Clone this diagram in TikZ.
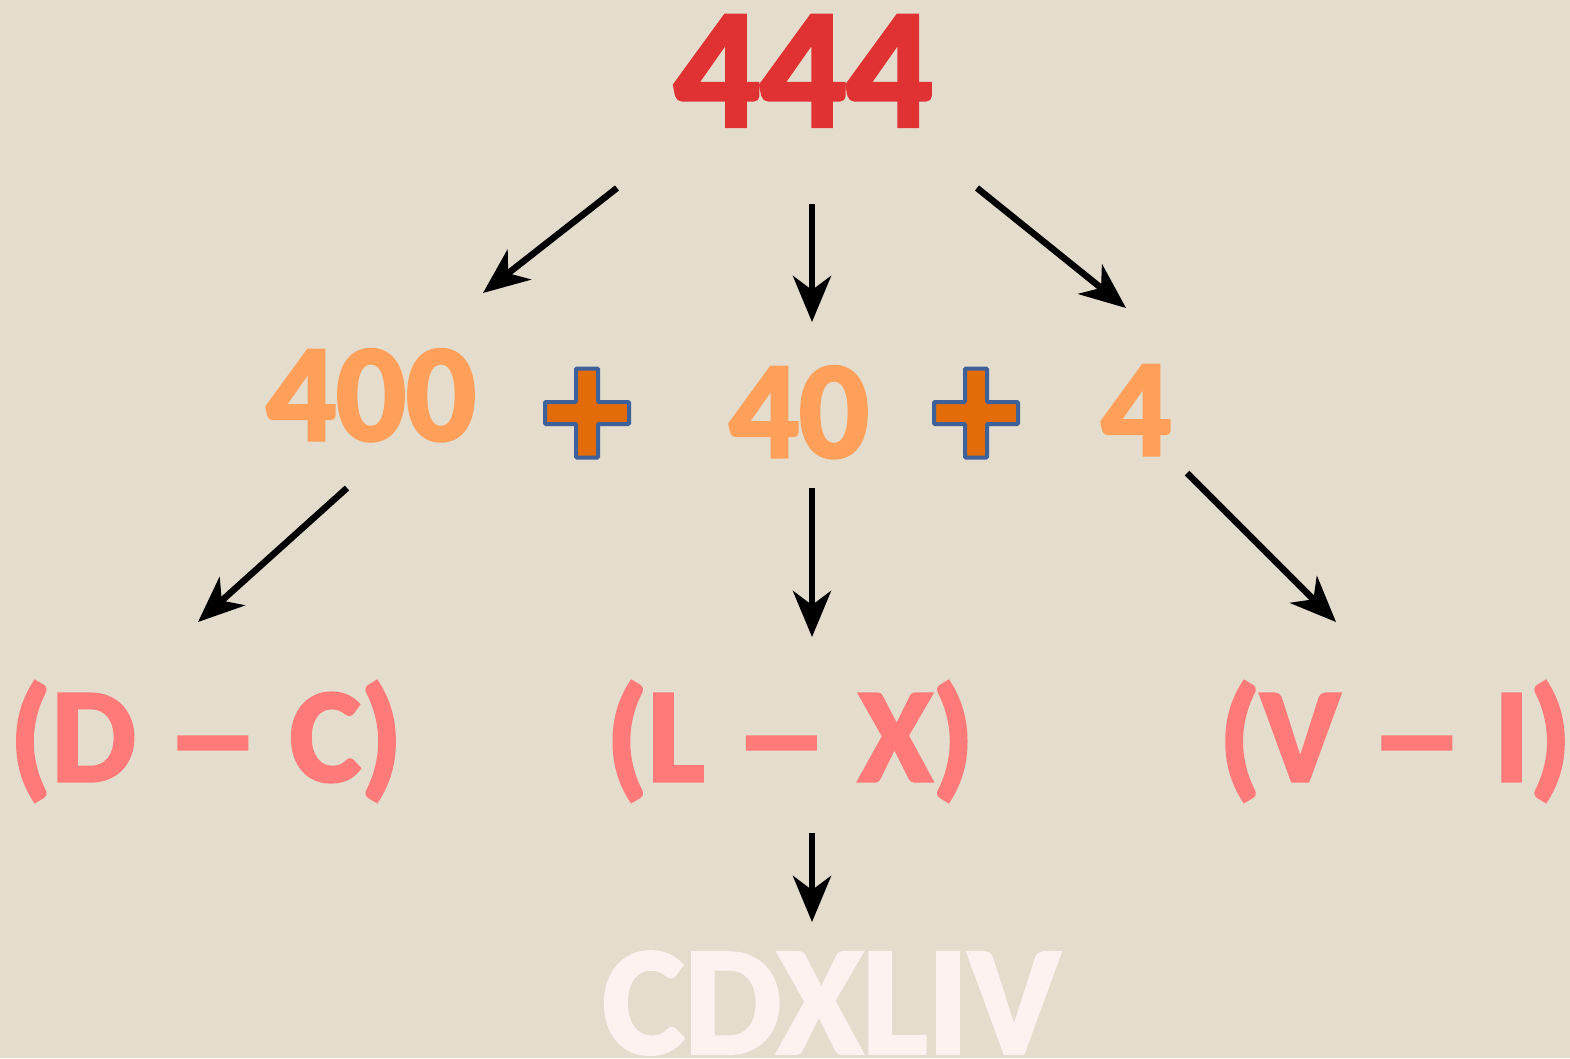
\documentclass[tikz,border=0pt]{standalone}
\usepackage{fontspec}
\setmainfont{Carlito}
\newfontfamily\boldcal{Carlito Bold}[FakeBold=2.5]
\usetikzlibrary{arrows.meta}
\definecolor{bgc}{HTML}{E4DCCD}
\definecolor{redc}{HTML}{E03232}
\definecolor{orangec}{HTML}{FFA05A}
\definecolor{pinkc}{HTML}{FF7A78}
\definecolor{whitec}{HTML}{FCF2F0}
\definecolor{plusfill}{HTML}{E36C09}
\definecolor{plusedge}{HTML}{3F6199}
\newcommand{\wdash}{\scalebox{1.4}[1]{–}}
\tikzset{
  txt/.style={inner sep=0pt, outer sep=0pt, anchor=base},
  arr/.style={line width=6.5pt, -{Stealth[length=46pt, width=38pt, inset=14pt]}},
  plussign/.style={fill=plusfill, draw=plusedge, line width=4pt, rounded corners=1pt}
}
\newcommand{\plusat}[2]{%
  \path[plussign] (#1-11,#2-44.5) -- (#1+11,#2-44.5) -- (#1+11,#2-11) -- (#1+42,#2-11)
    -- (#1+42,#2+11) -- (#1+11,#2+11) -- (#1+11,#2+44.5) -- (#1-11,#2+44.5)
    -- (#1-11,#2+11) -- (#1-42,#2+11) -- (#1-42,#2-11) -- (#1-11,#2-11) -- cycle;}
\begin{document}
\begin{tikzpicture}[x=1pt,y=-1pt]
\fill[bgc] (0,0) rectangle (1570,1058);
\useasboundingbox (0,0) rectangle (1570,1058);

% texts
\node[txt, text=redc, font=\boldcal\fontsize{170}{170}\selectfont] (n444) at (803,126) {444};
\node[txt, text=orangec, font=\boldcal\fontsize{138}{138}\selectfont] (n400) at (371,440) {400};
\node[txt, text=orangec, font=\boldcal\fontsize{138}{138}\selectfont] (n40) at (799,457) {40};
\node[txt, text=orangec, font=\boldcal\fontsize{138}{138}\selectfont] (n4) at (1136,455) {4};
\node[txt, text=pinkc, font=\boldcal\fontsize{134}{134}\selectfont] (ndc) at (206,781) {(D \wdash{} C)};
\node[txt, text=pinkc, font=\boldcal\fontsize{134}{134}\selectfont] (nlx) at (790,781) {(L \wdash{} X)};
\node[txt, text=pinkc, font=\boldcal\fontsize{134}{134}\selectfont] (nvi) at (1395,781) {(V \wdash{} I)};
\node[txt, text=whitec, font=\boldcal\fontsize{154}{154}\selectfont] (nres) at (831,1053) {CDXLIV};

% plus signs
\plusat{587}{413}
\plusat{976}{413}

% arrow endpoints
\coordinate (a1s) at (617,188); \coordinate (a1e) at (483,293);
\coordinate (a2s) at (812,204); \coordinate (a2e) at (812,322);
\coordinate (a3s) at (977,188); \coordinate (a3e) at (1126,308);
\coordinate (a4s) at (347,488); \coordinate (a4e) at (198,622);
\coordinate (a5s) at (812,488); \coordinate (a5e) at (812,637);
\coordinate (a6s) at (1187,473); \coordinate (a6e) at (1336,622);
\coordinate (a7s) at (812,833); \coordinate (a7e) at (812,922);

\draw[arr] (a1s) -- (a1e);
\draw[arr] (a2s) -- (a2e);
\draw[arr] (a3s) -- (a3e);
\draw[arr] (a4s) -- (a4e);
\draw[arr] (a5s) -- (a5e);
\draw[arr] (a6s) -- (a6e);
\draw[arr] (a7s) -- (a7e);
\end{tikzpicture}
\end{document}
